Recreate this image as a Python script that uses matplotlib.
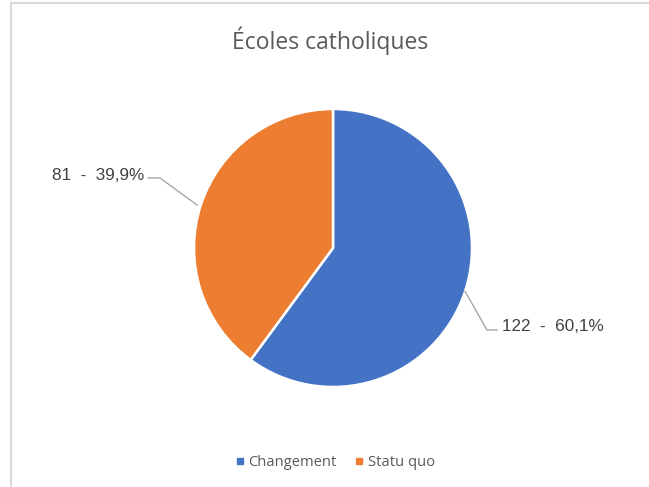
import matplotlib.pyplot as plt
from matplotlib.patches import Rectangle
from matplotlib.lines import Line2D

# Data
categories = ["Changement", "Statu quo"]
counts = [122, 81]
percents = ["60,1%", "39,9%"]
colors = ["#4472C4", "#ED7D31"]

fig = plt.figure(figsize=(6.49, 4.87), dpi=100)

# light frame (top and left edges visible)
fig.patches.append(Rectangle((11 / 649, -0.1), 1.2, 1 - 3 / 487 + 0.1,
                             transform=fig.transFigure, fill=False,
                             edgecolor="#d9d9d9", linewidth=1.5))

ax = fig.add_axes([0.2454, 0.134, 0.5354, 0.7136])
ax.pie(counts, colors=colors, startangle=90, counterclock=False,
       wedgeprops=dict(edgecolor="white", linewidth=1.8))
ax.set_xlim(-1.25, 1.25)
ax.set_ylim(-1.25, 1.25)
ax.set_aspect("equal")
ax.axis("off")

# Data labels with leader lines
label_font = dict(family="Liberation Sans", fontsize=12.3, color="#404040")

ax.plot([-0.978, -1.245, -1.331], [0.309, 0.504, 0.504],
        color="#a6a6a6", lw=1, clip_on=False)
ax.text(-1.36, 0.525, f"{counts[1]}  -  {percents[1]}",
        ha="right", va="center", **label_font)

ax.plot([0.95, 1.108, 1.18], [-0.312, -0.59, -0.59],
        color="#a6a6a6", lw=1, clip_on=False)
ax.text(1.215, -0.568, f"{counts[0]}  -  {percents[0]}",
        ha="left", va="center", **label_font)

fig.text(0.508, 1 - 41 / 487, "Écoles catholiques", ha="center", va="center",
         family="Open Sans", fontsize=16.5, color="#595959")

handles = [Line2D([], [], marker="s", linestyle="none", markersize=4,
                  markerfacecolor=c, markeredgecolor=c) for c in colors]
fig.legend(handles, categories, loc="center", bbox_to_anchor=(0.513, 1 - 463 / 487),
           ncol=2, frameon=False, handletextpad=0.0, columnspacing=0.9,
           handlelength=1.2, prop=dict(family="Open Sans", size=10.6),
           labelcolor="#595959")

fig.savefig("out.png", dpi=100)
